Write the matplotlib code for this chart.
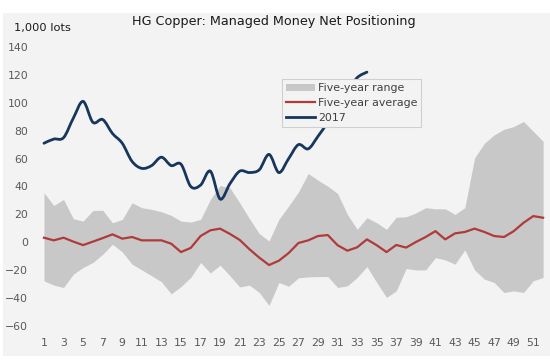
import matplotlib
matplotlib.use("Agg")
import matplotlib.pyplot as plt
from matplotlib.path import Path
from matplotlib.patches import PathPatch, Patch, Rectangle
from matplotlib.lines import Line2D

# Data, 1,000 lots
weeks = list(range(1, 53))
range_upper = [35.5, 26.4, 30.7, 16.9, 15.2, 22.8, 23.0, 14.0, 16.4, 28.3,
               24.8, 23.6, 21.9, 19.3, 15.2, 14.5, 16.4, 30.7, 40.7, 39.0,
               28.3, 16.9, 6.2, 1.0, 16.4, 26.0, 36.0, 49.3, 44.5, 40.2,
               35.0, 20.0, 9.3, 17.6, 14.0, 9.3, 18.0, 18.3, 21.0, 24.8,
               24.0, 24.0, 20.0, 24.8, 60.5, 71.0, 77.0, 81.0, 83.0, 86.6,
               79.5, 72.4]
range_lower = [-27.6, -30.7, -32.4, -22.9, -18.0, -14.5, -8.6, -1.4, -6.9, -15.7,
               -19.8, -24.0, -28.3, -37.0, -31.7, -25.2, -14.5, -22.0, -16.4, -24.0,
               -32.0, -30.7, -36.0, -45.3, -28.8, -31.5, -25.5, -24.8, -24.6, -24.5,
               -32.4, -31.2, -25.2, -17.4, -28.8, -39.5, -34.8, -18.8, -19.8, -19.8,
               -11.0, -12.6, -15.7, -5.5, -19.8, -26.4, -28.8, -36.0, -34.8, -36.0,
               -27.6, -25.2]
five_year_avg = [3.3, 1.4, 3.3, 0.5, -2.0, 0.5, 3.0, 5.7, 2.6, 3.8,
                 1.4, 1.4, 1.4, -1.0, -7.0, -4.0, 4.5, 8.6, 9.8, 6.0,
                 1.7, -5.0, -11.0, -16.3, -13.2, -7.7, -0.5, 1.4, 4.5, 5.2,
                 -2.1, -6.0, -3.6, 2.1, -2.1, -7.0, -1.9, -3.8, 0.2, 3.8,
                 8.0, 2.1, 6.4, 7.4, 9.8, 7.4, 4.5, 3.8, 8.0, 14.0,
                 18.8, 17.6]
weeks_2017 = list(range(1, 35))
net_2017 = [71, 74, 75, 89, 101, 86, 88, 78, 71, 58,
            53, 55, 61, 55, 56, 40, 41, 51, 31, 42,
            51, 50, 52, 63, 50, 60, 70, 67, 76, 86,
            97, 108, 118, 122]

C_RANGE = "#c8c8c8"
C_AVG = "#b03a3a"
C_2017 = "#17365d"
C_BG = "#f3f3f3"
C_TEXT = "#595959"


def smooth_path(xs, ys):
    """Excel-style smoothed line: Catmull-Rom segments as cubic Beziers."""
    n = len(xs)
    verts = [(xs[0], ys[0])]
    codes = [Path.MOVETO]
    for i in range(n - 1):
        a = max(i - 1, 0)
        b = min(i + 2, n - 1)
        c1 = (xs[i] + (xs[i + 1] - xs[a]) / 6, ys[i] + (ys[i + 1] - ys[a]) / 6)
        c2 = (xs[i + 1] - (xs[b] - xs[i]) / 6, ys[i + 1] - (ys[b] - ys[i]) / 6)
        verts += [c1, c2, (xs[i + 1], ys[i + 1])]
        codes += [Path.CURVE4] * 3
    return Path(verts, codes)


fig = plt.figure(figsize=(5.5, 3.64), dpi=100)
fig.patch.set_facecolor("white")
fig.patches.append(Rectangle((3 / 550, 1 - 356 / 364), 547 / 550, 343 / 364,
                             transform=fig.transFigure, facecolor=C_BG,
                             edgecolor="none", zorder=-10))

ax = fig.add_axes([38 / 550, 1 - 326 / 364, 510 / 550, 279 / 364])
ax.patch.set_alpha(0)

ax.fill_between(weeks, range_lower, range_upper, color=C_RANGE, linewidth=0, zorder=1)
ax.plot(weeks, five_year_avg, color=C_AVG, linewidth=1.6, zorder=2)
ax.add_patch(PathPatch(smooth_path(weeks_2017, net_2017), fill=False,
                       edgecolor=C_2017, linewidth=2.0, capstyle="round", zorder=3))

ax.set_xlim(0.39, 52.5)
ax.set_ylim(-60, 140)
ax.set_yticks(range(-60, 141, 20))
ax.set_xticks(range(1, 52, 2))
for s in ax.spines.values():
    s.set_visible(False)
ax.tick_params(axis="both", length=0, labelsize=7.8, colors=C_TEXT)
ax.tick_params(axis="y", pad=7)
ax.tick_params(axis="x", pad=9)

fig.text(0.498, 1 - 22 / 364, "HG Copper: Managed Money Net Positioning",
         ha="center", va="center", fontsize=9.2, color="#1a1a1a")
fig.text(14 / 550, 1 - 28 / 364, "1,000 lots", ha="left", va="center",
         fontsize=8.2, color="#1a1a1a")

handles = [Patch(facecolor=C_RANGE, edgecolor="none"),
           Line2D([], [], color=C_AVG, linewidth=1.6),
           Line2D([], [], color=C_2017, linewidth=2.0)]
leg = ax.legend(handles, ["Five-year range", "Five-year average", "2017"],
                loc="upper left", bbox_to_anchor=(0.478, 0.885), borderaxespad=0,
                fontsize=7.9, frameon=True, fancybox=False, framealpha=1,
                handlelength=2.7, handleheight=0.6, handletextpad=0.25,
                labelspacing=0.45, borderpad=0.35)
leg.get_frame().set_facecolor(C_BG)
leg.get_frame().set_edgecolor("#cfcfcf")
leg.get_frame().set_linewidth(0.8)
for t in leg.get_texts():
    t.set_color("#404040")
leg.set_zorder(5)

fig.savefig("out.png", dpi=100, facecolor="white")
